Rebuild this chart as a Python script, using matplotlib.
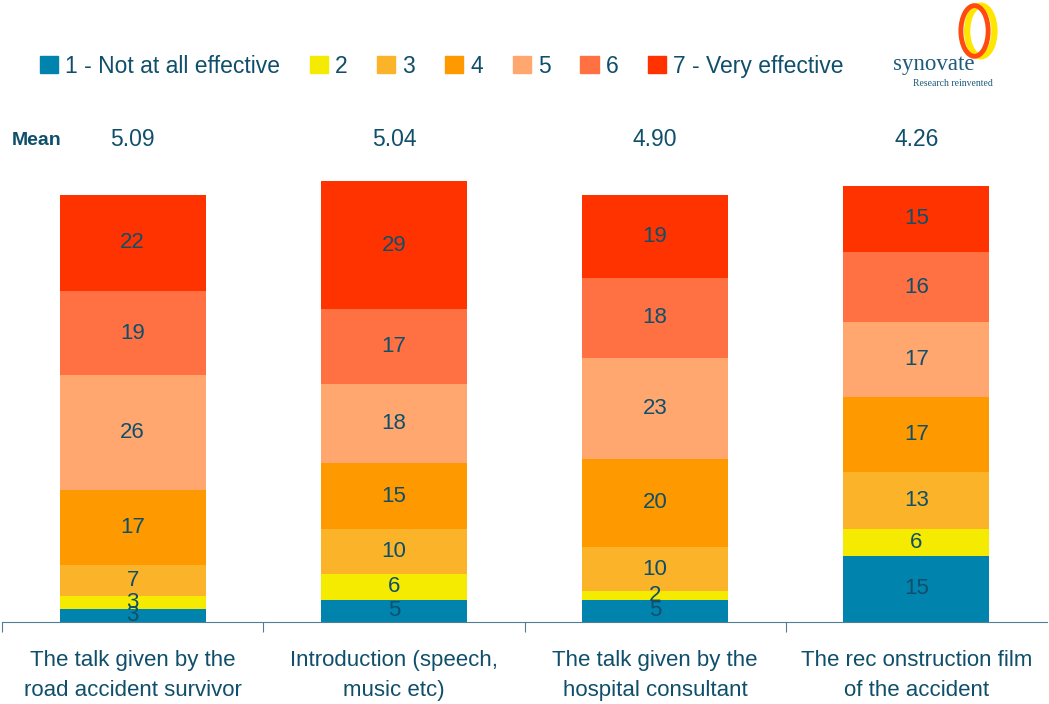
import matplotlib.pyplot as plt
from matplotlib.patches import Patch, Ellipse
import numpy as np

plt.rcParams['font.family'] = ['Liberation Sans', 'DejaVu Sans']

categories = ['The talk given by the\nroad accident survivor',
              'Introduction (speech,\nmusic etc)',
              'The talk given by the\nhospital consultant',
              'The rec onstruction film\nof the accident']
series_names = ['1 - Not at all effective', '2', '3', '4', '5', '6', '7 - Very effective']
values = [
    [3, 5, 5, 15],
    [3, 6, 2, 6],
    [7, 10, 10, 13],
    [17, 15, 20, 17],
    [26, 18, 23, 17],
    [19, 17, 18, 16],
    [22, 29, 19, 15],
]
means = ['5.09', '5.04', '4.90', '4.26']
colors = ['#0084AE', '#F5EB00', '#FBB32A', '#FF9900', '#FFA76F', '#FF7142', '#FF3300']
txt = '#0F4F6B'

fig = plt.figure(figsize=(10.49, 7.04), dpi=100)
ax = fig.add_axes([0.002, 0.1165, 0.996, 0.626])

x = np.arange(len(categories))
bottom = np.zeros(len(categories))
for name, vals, c in zip(series_names, values, colors):
    vals = np.array(vals, dtype=float)
    ax.bar(x, vals, 0.56, bottom=bottom, color=c, label=name)
    for xi, b, v in zip(x, bottom, vals):
        ax.text(xi, b + v / 2, str(int(v)), ha='center', va='center',
                fontsize=16, color=txt)
    bottom += vals

ax.set_xlim(-0.5, 3.5)
ax.set_ylim(0, 100)
for s in ['top', 'right', 'left']:
    ax.spines[s].set_visible(False)
ax.spines['bottom'].set_color('#4F7F95')
ax.set_yticks([])
ax.set_xticks([-0.5, 0.5, 1.5, 2.5])
ax.set_xticklabels([])
ax.tick_params(axis='x', direction='out', length=7, color='#4F7F95')
for xi, lab in zip(x, categories):
    ax.text(xi, -6.3, lab, ha='center', va='top', fontsize=16, color=txt,
            linespacing=1.55, clip_on=False)

# mean row
fig.text(0.011, 0.80, 'Mean', fontsize=14, fontweight='bold', color=txt, va='center')
for xi, m in zip(x, means):
    ax.text(xi, 109.5, m, ha='center', va='center', fontsize=16.5, color=txt, clip_on=False)

handles = [Patch(color=c) for c in colors]
fig.legend(handles, series_names, loc='center left', bbox_to_anchor=(0.018, 0.906),
           ncol=7, frameon=False, fontsize=16.5, handlelength=0.8, handleheight=0.8,
           handletextpad=0.3, columnspacing=1.3, labelcolor=txt)

# logo
fig.text(0.851, 0.908, 'synovate', family='Liberation Serif', fontsize=16.5,
         color='#1E5A7A', va='center')
fig.text(0.87, 0.881, 'Research reinvented', family='Liberation Serif', fontsize=7,
         color='#1E5A7A', va='center')
fig.patches.append(Ellipse((0.935, 0.956), 0.026, 0.072, transform=fig.transFigure,
                           fill=False, ec='#FFE600', lw=4.5))
fig.patches.append(Ellipse((0.929, 0.956), 0.026, 0.072, transform=fig.transFigure,
                           fill=False, ec='#FF4A10', lw=3.5))

fig.savefig('out.png', dpi=100)
